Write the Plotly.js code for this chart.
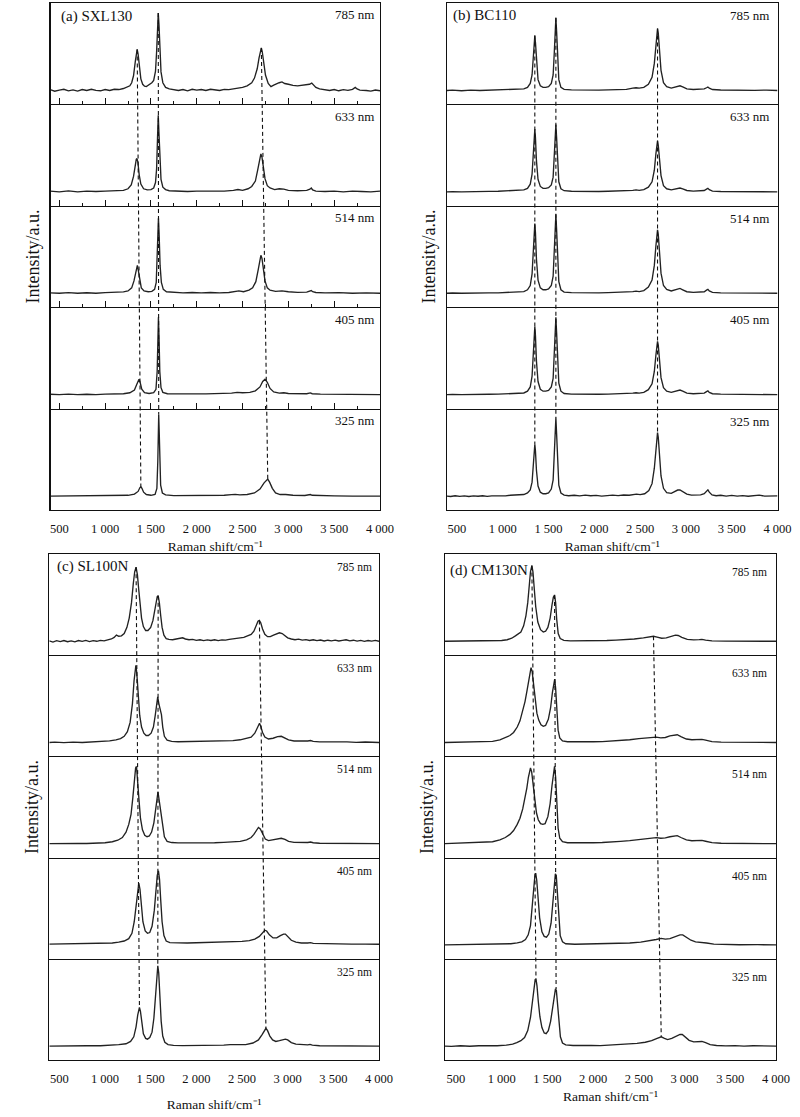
<!DOCTYPE html>
<html><head><meta charset="utf-8">
<script src="https://cdn.plot.ly/plotly-3.0.1.min.js"></script>
<style>html,body{margin:0;padding:0;background:#fff;} #chart{width:800px;height:1117px;}</style>
</head><body><div id="chart"></div>
<script>
// ---------- DATA (Raman shift cm-1, relative intensity) ----------
const lasers = ['785 nm','633 nm','514 nm','405 nm','325 nm'];
const tickVals = [500,1000,1500,2000,2500,3000,3500,4000];
const tickText = ['500','1 000','1 500','2 000','2 500','3 000','3 500','4 000'];
const panelNames = ['(a) SXL130','(b) BC110','(c) SL100N','(d) CM130N'];

// (a) SXL130
const a785 = [[400,0.01],[450,-0.01],[500,0.005],[550,0.015],[600,-0.005],[650,0.008],[700,-0.008],[750,0.012],[800,0.0],[850,0.015],[900,0.002],[950,-0.004],[1000,0.012],[1050,0.0],[1100,0.016],[1150,0.012],[1200,0.025],[1240,0.04],[1270,0.06],[1290,0.1],[1310,0.19],[1330,0.38],[1340,0.49],[1350,0.53],[1360,0.47],[1375,0.3],[1390,0.15],[1410,0.08],[1430,0.055],[1450,0.05],[1480,0.07],[1510,0.1],[1530,0.13],[1550,0.25],[1562,0.5],[1572,0.85],[1580,1.0],[1588,0.85],[1598,0.5],[1610,0.24],[1630,0.1],[1660,0.04],[1700,0.02],[1750,0.01],[1800,0.0],[1850,0.012],[1900,-0.005],[1950,0.015],[2000,0.005],[2050,0.012],[2100,0.0],[2150,0.016],[2200,0.008],[2250,0.0],[2300,0.014],[2350,0.01],[2400,0.02],[2450,0.03],[2500,0.04],[2550,0.06],[2600,0.1],[2630,0.16],[2660,0.28],[2680,0.42],[2695,0.52],[2705,0.55],[2715,0.5],[2730,0.36],[2750,0.2],[2780,0.09],[2810,0.05],[2840,0.07],[2870,0.09],[2900,0.1],[2930,0.11],[2960,0.09],[3000,0.08],[3050,0.065],[3100,0.06],[3150,0.065],[3200,0.07],[3230,0.08],[3255,0.095],[3275,0.07],[3300,0.04],[3340,0.02],[3400,0.01],[3450,0.0],[3500,0.012],[3550,-0.004],[3600,0.01],[3650,0.002],[3700,0.015],[3730,0.04],[3750,0.02],[3780,0.005],[3850,0.0],[3900,-0.008],[3950,0.006],[4000,-0.004]];
const a633 = [[400,0.01],[500,0.0],[600,0.012],[700,0.0],[800,0.01],[900,0.005],[1000,0.01],[1100,0.015],[1200,0.02],[1250,0.04],[1285,0.09],[1310,0.2],[1330,0.36],[1340,0.42],[1348,0.43],[1358,0.38],[1372,0.22],[1390,0.1],[1420,0.04],[1460,0.025],[1500,0.03],[1530,0.05],[1550,0.12],[1562,0.3],[1572,0.7],[1580,0.99],[1588,0.75],[1598,0.38],[1610,0.16],[1630,0.06],[1660,0.03],[1700,0.015],[1800,0.01],[1900,0.005],[2000,0.01],[2100,0.01],[2200,0.005],[2300,0.01],[2400,0.02],[2450,0.03],[2500,0.02],[2560,0.04],[2600,0.07],[2640,0.14],[2665,0.28],[2685,0.43],[2700,0.49],[2712,0.45],[2725,0.33],[2745,0.17],[2770,0.08],[2800,0.05],[2850,0.03],[2900,0.04],[2950,0.035],[3000,0.02],[3100,0.015],[3200,0.02],[3235,0.035],[3250,0.05],[3265,0.025],[3300,0.01],[3400,0.005],[3500,0.01],[3600,0.0],[3700,0.01],[3800,0.005],[3900,0.0],[4000,0.01]];
const a514 = [[400,0.005],[500,0.0],[600,0.008],[700,0.0],[800,0.006],[900,0.0],[1000,0.008],[1100,0.01],[1200,0.018],[1250,0.03],[1290,0.07],[1315,0.16],[1335,0.3],[1345,0.35],[1352,0.36],[1362,0.3],[1378,0.16],[1395,0.07],[1425,0.03],[1470,0.02],[1510,0.025],[1540,0.05],[1558,0.14],[1568,0.4],[1576,0.8],[1582,0.97],[1590,0.75],[1600,0.36],[1614,0.14],[1635,0.05],[1670,0.02],[1750,0.01],[1850,0.005],[1950,0.01],[2050,0.005],[2150,0.01],[2250,0.005],[2350,0.01],[2420,0.02],[2460,0.03],[2510,0.02],[2570,0.04],[2610,0.07],[2645,0.15],[2670,0.3],[2688,0.44],[2700,0.49],[2712,0.45],[2726,0.32],[2745,0.16],[2770,0.07],[2800,0.04],[2860,0.025],[2930,0.03],[3000,0.02],[3100,0.012],[3200,0.015],[3235,0.025],[3250,0.035],[3265,0.02],[3300,0.01],[3400,0.005],[3550,0.008],[3700,0.0],[3850,0.005],[4000,0.0]];
const a405 = [[400,0.005],[500,0.0],[600,0.006],[700,0.0],[800,0.005],[900,0.0],[1000,0.006],[1100,0.008],[1200,0.012],[1270,0.025],[1320,0.06],[1345,0.13],[1360,0.19],[1370,0.2],[1382,0.16],[1400,0.07],[1430,0.025],[1480,0.015],[1530,0.025],[1555,0.07],[1568,0.3],[1576,0.75],[1582,1.0],[1589,0.72],[1597,0.3],[1610,0.09],[1630,0.03],[1680,0.012],[1800,0.008],[1950,0.01],[2100,0.01],[2250,0.012],[2380,0.02],[2440,0.03],[2500,0.025],[2580,0.03],[2640,0.05],[2690,0.1],[2720,0.17],[2745,0.2],[2770,0.16],[2800,0.08],[2840,0.035],[2900,0.02],[2950,0.025],[3000,0.015],[3100,0.01],[3200,0.012],[3240,0.022],[3260,0.012],[3350,0.006],[3500,0.004],[3700,0.0],[3850,0.004],[4000,0.0]];
const a325 = [[400,0.0],[600,0.002],[800,0.0],[1000,0.003],[1150,0.005],[1250,0.01],[1320,0.025],[1360,0.06],[1380,0.11],[1390,0.12],[1402,0.1],[1420,0.05],[1450,0.02],[1500,0.01],[1545,0.02],[1565,0.1],[1575,0.45],[1580,0.85],[1585,1.05],[1590,0.85],[1596,0.45],[1606,0.14],[1625,0.04],[1660,0.015],[1750,0.005],[1900,0.004],[2100,0.006],[2300,0.01],[2380,0.018],[2420,0.022],[2470,0.015],[2550,0.02],[2630,0.04],[2690,0.09],[2735,0.17],[2760,0.21],[2775,0.22],[2795,0.18],[2825,0.1],[2860,0.04],[2910,0.02],[2970,0.02],[3050,0.01],[3180,0.008],[3240,0.02],[3260,0.01],[3350,0.004],[3500,0.002],[3700,0.0],[4000,0.0]];

// (b) BC110
const b785 = [[390,0.0],[450,0.005],[550,-0.003],[650,0.004],[750,0.0],[850,0.004],[950,0.002],[1050,0.01],[1120,0.015],[1180,0.012],[1230,0.02],[1270,0.04],[1300,0.09],[1320,0.2],[1335,0.45],[1345,0.66],[1350,0.71],[1357,0.62],[1368,0.36],[1385,0.14],[1410,0.06],[1440,0.04],[1470,0.04],[1500,0.05],[1530,0.09],[1550,0.2],[1563,0.5],[1572,0.8],[1580,0.94],[1588,0.76],[1597,0.42],[1612,0.14],[1635,0.04],[1670,0.015],[1750,0.008],[1850,0.005],[1950,0.006],[2050,0.004],[2150,0.008],[2250,0.01],[2350,0.015],[2420,0.03],[2455,0.035],[2490,0.03],[2540,0.04],[2590,0.08],[2630,0.17],[2655,0.35],[2672,0.6],[2683,0.76],[2690,0.8],[2698,0.74],[2710,0.52],[2728,0.26],[2755,0.1],[2790,0.05],[2840,0.03],[2880,0.04],[2910,0.055],[2935,0.06],[2965,0.045],[3010,0.02],[3080,0.012],[3150,0.012],[3200,0.02],[3225,0.035],[3240,0.045],[3255,0.03],[3290,0.012],[3380,0.006],[3500,0.003],[3620,0.006],[3750,0.002],[3880,0.005],[4000,0.0]];
const b633 = [[390,0.0],[450,0.004],[550,0.0],[650,0.005],[750,0.002],[850,0.006],[950,0.008],[1050,0.015],[1120,0.022],[1180,0.02],[1230,0.025],[1270,0.045],[1300,0.1],[1320,0.23],[1335,0.52],[1345,0.76],[1350,0.81],[1357,0.7],[1368,0.4],[1385,0.16],[1410,0.07],[1440,0.045],[1470,0.045],[1500,0.055],[1530,0.09],[1550,0.19],[1563,0.47],[1572,0.74],[1580,0.87],[1588,0.7],[1597,0.39],[1612,0.13],[1635,0.04],[1670,0.015],[1750,0.008],[1850,0.005],[1950,0.006],[2050,0.005],[2150,0.008],[2250,0.01],[2350,0.012],[2420,0.02],[2455,0.025],[2490,0.02],[2540,0.03],[2590,0.06],[2630,0.13],[2655,0.28],[2672,0.49],[2683,0.62],[2690,0.66],[2698,0.6],[2710,0.43],[2728,0.21],[2755,0.08],[2790,0.04],[2840,0.025],[2880,0.035],[2910,0.048],[2935,0.05],[2965,0.038],[3010,0.018],[3080,0.01],[3150,0.01],[3200,0.018],[3225,0.035],[3240,0.045],[3255,0.028],[3290,0.01],[3380,0.005],[3500,0.003],[3620,0.005],[3750,0.002],[3880,0.004],[4000,0.0]];
const b514 = [[390,0.0],[450,0.004],[550,0.0],[650,0.004],[750,0.002],[850,0.005],[950,0.006],[1050,0.012],[1120,0.018],[1180,0.016],[1230,0.022],[1270,0.045],[1300,0.1],[1320,0.25],[1335,0.57],[1345,0.84],[1350,0.9],[1357,0.78],[1368,0.44],[1385,0.17],[1410,0.07],[1440,0.045],[1470,0.045],[1500,0.055],[1530,0.1],[1550,0.22],[1563,0.55],[1572,0.87],[1580,1.02],[1588,0.82],[1597,0.46],[1612,0.15],[1635,0.045],[1670,0.015],[1750,0.008],[1850,0.005],[1950,0.006],[2050,0.005],[2150,0.008],[2250,0.01],[2350,0.014],[2420,0.022],[2455,0.028],[2490,0.022],[2540,0.035],[2590,0.08],[2630,0.17],[2655,0.36],[2672,0.61],[2683,0.78],[2690,0.82],[2698,0.76],[2710,0.53],[2728,0.26],[2755,0.1],[2790,0.05],[2840,0.03],[2880,0.045],[2910,0.058],[2935,0.062],[2965,0.045],[3010,0.02],[3080,0.012],[3150,0.012],[3200,0.02],[3225,0.04],[3240,0.05],[3255,0.03],[3290,0.012],[3380,0.006],[3500,0.004],[3620,0.006],[3750,0.002],[3880,0.004],[4000,0.0]];
const b405 = [[390,0.0],[450,0.004],[550,0.0],[650,0.004],[750,0.002],[850,0.005],[950,0.006],[1050,0.012],[1120,0.018],[1180,0.016],[1230,0.022],[1270,0.045],[1300,0.1],[1320,0.24],[1335,0.55],[1345,0.82],[1350,0.88],[1357,0.76],[1368,0.43],[1385,0.17],[1410,0.07],[1440,0.045],[1470,0.045],[1500,0.055],[1530,0.1],[1550,0.21],[1563,0.54],[1572,0.85],[1580,1.0],[1588,0.8],[1597,0.45],[1612,0.15],[1635,0.045],[1670,0.015],[1750,0.008],[1850,0.005],[1950,0.006],[2050,0.005],[2150,0.008],[2250,0.01],[2350,0.014],[2420,0.02],[2455,0.025],[2490,0.02],[2540,0.03],[2590,0.065],[2630,0.14],[2655,0.3],[2672,0.51],[2683,0.65],[2690,0.69],[2698,0.64],[2710,0.45],[2728,0.22],[2755,0.09],[2790,0.045],[2840,0.03],[2880,0.045],[2910,0.058],[2935,0.06],[2965,0.045],[3010,0.02],[3080,0.012],[3150,0.012],[3200,0.02],[3225,0.04],[3240,0.05],[3255,0.03],[3290,0.012],[3380,0.006],[3500,0.004],[3620,0.006],[3750,0.002],[3880,0.004],[4000,0.0]];
const b325 = [[390,0.0],[430,-0.006],[480,0.004],[530,-0.004],[580,0.003],[630,-0.005],[680,0.002],[730,-0.002],[780,0.004],[830,-0.003],[880,0.003],[930,0.0],[980,0.006],[1030,0.002],[1080,0.01],[1130,0.015],[1180,0.012],[1230,0.02],[1270,0.04],[1300,0.08],[1320,0.18],[1335,0.42],[1345,0.62],[1350,0.67],[1357,0.58],[1368,0.33],[1385,0.13],[1410,0.05],[1440,0.03],[1470,0.03],[1500,0.04],[1530,0.09],[1550,0.21],[1563,0.54],[1572,0.86],[1580,1.01],[1588,0.8],[1597,0.45],[1612,0.14],[1635,0.04],[1670,0.012],[1720,0.004],[1780,0.01],[1840,0.002],[1900,0.012],[1960,0.004],[2020,0.008],[2080,0.0],[2140,0.006],[2200,0.012],[2260,0.006],[2320,0.014],[2380,0.01],[2430,0.02],[2460,0.025],[2500,0.018],[2550,0.03],[2595,0.07],[2630,0.16],[2655,0.36],[2672,0.61],[2683,0.78],[2690,0.82],[2698,0.76],[2710,0.53],[2728,0.26],[2755,0.1],[2790,0.045],[2840,0.035],[2880,0.06],[2910,0.078],[2935,0.08],[2965,0.06],[3010,0.025],[3060,0.012],[3110,0.018],[3160,0.015],[3200,0.03],[3225,0.065],[3240,0.08],[3255,0.05],[3285,0.015],[3330,0.004],[3380,0.01],[3440,0.0],[3500,0.008],[3560,0.0],[3620,0.006],[3680,-0.002],[3740,0.004],[3800,0.012],[3860,0.0],[3920,0.004],[3960,-0.002],[4000,0.002]];

// (c) SL100N
const c785 = [[390,0.005],[430,-0.01],[470,0.008],[510,-0.004],[550,0.01],[590,-0.006],[630,0.006],[670,-0.008],[710,0.01],[750,0.0],[790,0.012],[830,-0.004],[870,0.008],[910,0.0],[950,0.012],[990,0.005],[1030,0.018],[1070,0.03],[1100,0.05],[1125,0.08],[1150,0.065],[1180,0.07],[1210,0.1],[1240,0.18],[1265,0.3],[1290,0.5],[1310,0.75],[1325,0.9],[1340,0.96],[1355,0.86],[1370,0.66],[1385,0.46],[1400,0.3],[1420,0.19],[1445,0.14],[1470,0.14],[1500,0.18],[1525,0.27],[1545,0.4],[1560,0.52],[1572,0.58],[1582,0.59],[1595,0.5],[1610,0.33],[1625,0.18],[1645,0.08],[1670,0.035],[1700,0.025],[1740,0.02],[1780,0.03],[1820,0.04],[1850,0.045],[1880,0.03],[1920,0.02],[1960,0.025],[2000,0.012],[2040,0.02],[2080,0.008],[2120,0.018],[2160,0.01],[2200,0.02],[2240,0.008],[2280,0.018],[2320,0.015],[2360,0.025],[2400,0.03],[2440,0.04],[2480,0.045],[2520,0.05],[2560,0.07],[2600,0.09],[2630,0.13],[2655,0.2],[2675,0.26],[2690,0.27],[2705,0.24],[2725,0.16],[2750,0.09],[2780,0.06],[2810,0.06],[2845,0.08],[2880,0.1],[2910,0.11],[2940,0.1],[2970,0.07],[3000,0.045],[3040,0.03],[3080,0.02],[3120,0.028],[3160,0.015],[3200,0.022],[3240,0.01],[3280,0.02],[3320,0.008],[3360,0.016],[3400,0.004],[3440,0.014],[3480,0.006],[3520,0.015],[3560,0.004],[3600,0.012],[3640,0.02],[3680,0.006],[3720,0.014],[3760,0.002],[3800,0.012],[3840,0.0],[3880,0.01],[3920,0.002],[3960,0.012],[4000,0.0]];
const c633 = [[390,0.0],[450,0.004],[550,-0.002],[650,0.005],[750,0.0],[850,0.006],[950,0.01],[1050,0.02],[1120,0.035],[1170,0.05],[1210,0.08],[1245,0.14],[1275,0.26],[1300,0.5],[1318,0.8],[1330,0.96],[1338,1.0],[1348,0.9],[1362,0.62],[1380,0.35],[1400,0.2],[1425,0.12],[1450,0.09],[1475,0.09],[1505,0.12],[1530,0.2],[1550,0.35],[1565,0.52],[1577,0.59],[1590,0.5],[1605,0.42],[1618,0.36],[1632,0.2],[1650,0.08],[1680,0.03],[1730,0.015],[1800,0.01],[1900,0.012],[2000,0.008],[2100,0.012],[2200,0.015],[2300,0.02],[2400,0.025],[2480,0.035],[2550,0.05],[2600,0.07],[2640,0.12],[2665,0.19],[2682,0.24],[2692,0.25],[2705,0.21],[2725,0.13],[2750,0.07],[2790,0.045],[2840,0.055],[2890,0.075],[2930,0.08],[2970,0.06],[3010,0.035],[3070,0.02],[3150,0.015],[3220,0.02],[3250,0.025],[3280,0.015],[3350,0.008],[3450,0.01],[3550,0.004],[3650,0.008],[3750,0.002],[3850,0.006],[4000,0.0]];
const c514 = [[390,0.0],[500,0.004],[600,0.0],[700,0.005],[800,0.002],[900,0.006],[1000,0.012],[1080,0.025],[1140,0.045],[1190,0.08],[1230,0.15],[1260,0.25],[1285,0.38],[1305,0.6],[1322,0.85],[1335,0.98],[1345,1.0],[1355,0.88],[1370,0.6],[1388,0.33],[1410,0.18],[1435,0.11],[1460,0.09],[1485,0.1],[1510,0.15],[1535,0.27],[1555,0.46],[1570,0.63],[1580,0.67],[1592,0.57],[1605,0.45],[1618,0.38],[1632,0.22],[1650,0.09],[1680,0.03],[1730,0.015],[1800,0.01],[1900,0.01],[2000,0.008],[2100,0.012],[2200,0.012],[2300,0.018],[2400,0.025],[2480,0.03],[2550,0.05],[2600,0.08],[2630,0.12],[2660,0.18],[2680,0.21],[2700,0.19],[2725,0.12],[2755,0.06],[2790,0.04],[2840,0.05],[2890,0.065],[2930,0.07],[2970,0.055],[3010,0.03],[3070,0.018],[3150,0.012],[3220,0.016],[3250,0.022],[3280,0.012],[3350,0.006],[3500,0.006],[3650,0.003],[3800,0.005],[4000,0.0]];
const c405 = [[390,0.01],[500,0.012],[600,0.01],[700,0.014],[800,0.012],[900,0.016],[1000,0.02],[1080,0.025],[1150,0.035],[1210,0.05],[1260,0.08],[1295,0.15],[1320,0.3],[1340,0.53],[1355,0.72],[1370,0.8],[1383,0.72],[1398,0.5],[1415,0.3],[1440,0.18],[1465,0.15],[1490,0.16],[1515,0.24],[1540,0.45],[1558,0.72],[1572,0.9],[1585,0.96],[1597,0.85],[1610,0.58],[1625,0.3],[1645,0.12],[1670,0.05],[1710,0.03],[1800,0.025],[1900,0.025],[2000,0.028],[2100,0.03],[2200,0.032],[2300,0.035],[2400,0.04],[2500,0.045],[2580,0.055],[2640,0.075],[2690,0.11],[2725,0.16],[2750,0.19],[2770,0.18],[2800,0.13],[2840,0.09],[2880,0.09],[2920,0.12],[2955,0.14],[2975,0.14],[3000,0.11],[3040,0.06],[3090,0.035],[3150,0.025],[3220,0.025],[3250,0.03],[3280,0.02],[3400,0.015],[3550,0.012],[3700,0.01],[3850,0.01],[4000,0.008]];
const c325 = [[390,0.0],[500,0.003],[650,0.0],[800,0.004],[950,0.005],[1050,0.01],[1150,0.018],[1230,0.03],[1280,0.06],[1315,0.12],[1340,0.25],[1358,0.4],[1370,0.48],[1377,0.5],[1388,0.45],[1402,0.3],[1420,0.16],[1445,0.1],[1465,0.09],[1490,0.11],[1515,0.18],[1535,0.36],[1550,0.62],[1562,0.88],[1572,1.02],[1578,1.04],[1588,0.95],[1600,0.65],[1615,0.32],[1632,0.13],[1655,0.05],[1690,0.02],[1750,0.01],[1850,0.006],[2000,0.006],[2150,0.008],[2300,0.012],[2370,0.018],[2410,0.02],[2460,0.015],[2540,0.02],[2620,0.04],[2680,0.08],[2720,0.15],[2745,0.21],[2762,0.23],[2780,0.2],[2805,0.13],[2835,0.08],[2870,0.06],[2910,0.07],[2950,0.085],[2975,0.09],[3000,0.08],[3040,0.045],[3090,0.025],[3160,0.015],[3220,0.015],[3245,0.022],[3270,0.012],[3350,0.005],[3500,0.004],[3700,0.0],[3850,0.003],[4000,0.0]];

// (d) CM130N
const d785 = [[380,0.0],[500,0.002],[600,0.0],[700,0.003],[800,0.002],[900,0.005],[1000,0.01],[1060,0.02],[1110,0.04],[1150,0.07],[1180,0.09],[1210,0.12],[1240,0.2],[1265,0.33],[1285,0.5],[1300,0.7],[1315,0.9],[1330,0.98],[1342,0.9],[1355,0.7],[1372,0.45],[1395,0.25],[1425,0.15],[1455,0.12],[1480,0.13],[1505,0.18],[1530,0.3],[1550,0.47],[1565,0.57],[1578,0.6],[1590,0.5],[1602,0.28],[1618,0.1],[1640,0.035],[1680,0.012],[1750,0.005],[1850,0.004],[1950,0.005],[2050,0.006],[2150,0.01],[2250,0.015],[2350,0.02],[2450,0.03],[2550,0.045],[2620,0.058],[2660,0.065],[2700,0.055],[2750,0.04],[2800,0.045],[2850,0.065],[2900,0.08],[2930,0.075],[2970,0.05],[3030,0.025],[3100,0.018],[3160,0.022],[3190,0.025],[3230,0.015],[3300,0.006],[3450,0.003],[3600,0.0],[3800,0.002],[4000,0.0]];
const d633 = [[380,0.0],[500,0.003],[600,0.002],[700,0.005],[800,0.008],[900,0.015],[980,0.035],[1040,0.06],[1090,0.09],[1130,0.13],[1170,0.2],[1200,0.28],[1230,0.4],[1255,0.53],[1275,0.66],[1295,0.82],[1310,0.93],[1321,0.97],[1333,0.92],[1348,0.76],[1365,0.55],[1385,0.38],[1405,0.29],[1430,0.23],[1455,0.21],[1480,0.22],[1510,0.3],[1535,0.45],[1555,0.65],[1570,0.78],[1580,0.82],[1590,0.7],[1602,0.42],[1617,0.16],[1635,0.06],[1665,0.02],[1720,0.01],[1800,0.008],[1900,0.008],[2000,0.01],[2100,0.012],[2200,0.018],[2300,0.025],[2400,0.035],[2500,0.05],[2580,0.062],[2640,0.07],[2690,0.07],[2740,0.06],[2790,0.065],[2840,0.085],[2890,0.1],[2920,0.1],[2960,0.075],[3020,0.045],[3080,0.035],[3140,0.035],[3190,0.04],[3230,0.03],[3300,0.012],[3400,0.005],[3550,0.003],[3700,0.0],[3850,0.002],[4000,0.0]];
const d514 = [[380,0.0],[500,0.005],[600,0.005],[700,0.01],[800,0.015],[900,0.025],[980,0.05],[1040,0.08],[1090,0.12],[1130,0.17],[1170,0.25],[1200,0.33],[1230,0.45],[1255,0.58],[1275,0.72],[1292,0.86],[1305,0.95],[1315,0.98],[1328,0.93],[1343,0.77],[1360,0.56],[1380,0.4],[1400,0.31],[1425,0.26],[1450,0.25],[1475,0.26],[1505,0.35],[1530,0.52],[1550,0.75],[1566,0.93],[1578,1.0],[1590,0.86],[1602,0.52],[1617,0.2],[1635,0.07],[1665,0.025],[1720,0.012],[1800,0.01],[1900,0.01],[2000,0.012],[2100,0.015],[2200,0.02],[2300,0.03],[2400,0.04],[2500,0.055],[2580,0.068],[2640,0.075],[2690,0.078],[2740,0.07],[2790,0.075],[2840,0.09],[2890,0.105],[2920,0.105],[2960,0.08],[3020,0.05],[3080,0.038],[3140,0.038],[3190,0.042],[3230,0.032],[3300,0.014],[3400,0.006],[3550,0.004],[3700,0.0],[3850,0.003],[4000,0.0]];
const d405 = [[380,0.0],[500,0.003],[600,0.0],[700,0.004],[800,0.002],[900,0.005],[1000,0.008],[1100,0.015],[1170,0.025],[1220,0.04],[1260,0.07],[1290,0.13],[1315,0.25],[1335,0.47],[1350,0.72],[1362,0.88],[1372,0.93],[1383,0.84],[1397,0.6],[1415,0.35],[1440,0.17],[1465,0.11],[1490,0.1],[1515,0.14],[1540,0.28],[1560,0.55],[1575,0.8],[1587,0.92],[1597,0.9],[1608,0.68],[1622,0.35],[1640,0.12],[1665,0.04],[1700,0.015],[1800,0.008],[1950,0.01],[2100,0.012],[2250,0.018],[2400,0.025],[2520,0.035],[2620,0.05],[2690,0.07],[2745,0.085],[2790,0.075],[2840,0.08],[2900,0.11],[2950,0.13],[2980,0.13],[3020,0.1],[3070,0.06],[3120,0.04],[3170,0.035],[3200,0.035],[3240,0.025],[3320,0.01],[3450,0.005],[3600,0.002],[3800,0.003],[4000,0.0]];
const d325 = [[380,0.0],[450,-0.004],[550,0.004],[650,-0.002],[750,0.004],[850,0.0],[950,0.005],[1050,0.012],[1120,0.025],[1165,0.045],[1210,0.07],[1250,0.11],[1285,0.2],[1315,0.37],[1338,0.6],[1355,0.8],[1366,0.86],[1375,0.87],[1386,0.78],[1400,0.58],[1418,0.38],[1440,0.24],[1465,0.17],[1486,0.16],[1510,0.2],[1535,0.32],[1557,0.5],[1575,0.66],[1588,0.74],[1598,0.72],[1610,0.55],[1625,0.3],[1642,0.12],[1665,0.04],[1700,0.015],[1780,0.008],[1880,0.004],[1980,0.008],[2080,0.006],[2180,0.012],[2280,0.015],[2380,0.022],[2480,0.035],[2570,0.05],[2640,0.07],[2700,0.1],[2745,0.12],[2780,0.1],[2815,0.085],[2860,0.1],[2910,0.13],[2950,0.15],[2975,0.15],[3005,0.12],[3050,0.075],[3100,0.055],[3150,0.055],[3190,0.06],[3230,0.045],[3280,0.02],[3350,0.008],[3450,0.002],[3550,0.006],[3650,0.0],[3750,0.004],[3850,0.0],[3950,0.004],[4000,0.0]];

// dashed guide lines: [785 nm apex [shift, intensity], 325 nm apex [shift, intensity]]
const aDashD = [[1350,0.53],[1390,0.12]], aDashG = [[1580,1.0],[1585,1.05]], aDash2D = [[2705,0.55],[2775,0.22]];
const bDashD = [[1350,0.71],[1350,0.67]], bDashG = [[1580,0.94],[1580,1.01]], bDash2D = [[2690,0.8],[2690,0.82]];
const cDashD = [[1340,0.96],[1377,0.5]], cDashG = [[1582,0.59],[1578,1.04]], cDash2D = [[2690,0.27],[2762,0.23]];
const dDashD = [[1330,0.98],[1375,0.87]], dDashG = [[1578,0.6],[1595,0.74]], dDash2D = [[2660,0.065],[2745,0.12]];

// ---------- LAYOUT ----------
const W = 800, H = 1117;
const FONT = 'Liberation Serif, "Times New Roman", serif';
const INK = '#111';
const YMIN = -0.18, YMAX = 1.13;

const panels = [
  {spectra:[a785,a633,a514,a405,a325], dashes:[aDashD,aDashG,aDash2D], xr:[404,4000], box:[50.5,380,3,510], inner:true,
   nameXY:[59.3,16], nmRight:376, nmDy:12, nmSize:13, nameSize:15, xts:6},
  {spectra:[b785,b633,b514,b405,b325], dashes:[bDashD,bDashG,bDash2D], xr:[391,4000], box:[447,777.5,3,510], inner:false,
   nameXY:[450.7,15.3], nmRight:771, nmDy:12.5, nmSize:13, nameSize:15, xts:6},
  {spectra:[c785,c633,c514,c405,c325], dashes:[cDashD,cDashG,cDash2D], xr:[390,4000], box:[49.3,379,554,1060], inner:false,
   nameXY:[55,566.7], nmRight:374, nmDy:13, nmSize:11.5, nameSize:15, xts:14},
  {spectra:[d785,d633,d514,d405,d325], dashes:[dDashD,dDashG,dDash2D], xr:[380,4000], box:[445,776,554,1060], inner:false,
   nameXY:[448.3,570.3], nmRight:769, nmDy:18, nmSize:11.5, nameSize:15, xts:6}
];

const traces = [];
const layout = {width:W, height:H, margin:{l:0,r:0,t:0,b:0}, paper_bgcolor:'#fff', plot_bgcolor:'rgba(0,0,0,0)',
  showlegend:false, font:{family:FONT, color:INK}, annotations:[]};
const ax = n => (n===1 ? '' : String(n));

panels.forEach((P, p) => {
  const [l, r, t, b] = P.box;
  const h = (b - t) / 5;
  const xd = [l / W, r / W];
  for (let j = 0; j < 5; j++) {
    const n = p * 6 + j + 1;
    const s = P.spectra[j];
    traces.push({type:'scatter', mode:'lines', x:s.map(d => d[0]), y:s.map(d => d[1]),
      xaxis:'x' + ax(n), yaxis:'y' + ax(n), line:{color:'#222', width:1.35}, hoverinfo:'skip'});
    const xa = {domain:xd, range:P.xr, anchor:'y' + ax(n), showline:true, mirror:(j === 0), linecolor:INK, linewidth:1,
      showgrid:false, zeroline:false, fixedrange:true};
    if (j === 4) {
      Object.assign(xa, {tickmode:'array', tickvals:tickVals, ticktext:tickText, ticks:'outside', ticklen:7,
        tickcolor:'rgba(0,0,0,0)', showticklabels:true, tickfont:{family:FONT, size:12.5, color:INK},
        title:{text:'Raman shift/cm\u207B\u00B9', font:{family:FONT, size:13.5, color:INK}, standoff:P.xts}});
    } else if (P.inner) {
      Object.assign(xa, {tickmode:'linear', tick0:500, dtick:500, ticks:'inside', ticklen:6, tickwidth:1, tickcolor:INK,
        showticklabels:false, minor:{tick0:500, dtick:250, ticks:'inside', ticklen:3, tickwidth:1, tickcolor:INK}});
    } else {
      Object.assign(xa, {ticks:'', showticklabels:false});
    }
    layout['xaxis' + ax(n)] = xa;
    layout['yaxis' + ax(n)] = {domain:[1 - (t + (j + 1) * h) / H, 1 - (t + j * h) / H], range:[YMIN, YMAX],
      anchor:'x' + ax(n), showline:true, mirror:true, linecolor:INK, linewidth:1.1, ticks:'', showticklabels:false,
      showgrid:false, zeroline:false, fixedrange:true};
    layout.annotations.push({xref:'paper', yref:'paper', x:P.nmRight / W, y:1 - (t + j * h + P.nmDy) / H,
      xanchor:'right', yanchor:'middle', text:lasers[j], showarrow:false, font:{family:FONT, size:P.nmSize, color:INK}});
  }
  // overlay axis spanning the whole panel for the dashed guides and the y title
  const m = p * 6 + 6;
  layout['xaxis' + ax(m)] = {domain:xd, range:P.xr, anchor:'y' + ax(m), visible:false, fixedrange:true};
  layout['yaxis' + ax(m)] = {domain:[1 - b / H, 1 - t / H], range:[0, 5], anchor:'x' + ax(m), showline:false,
    ticks:'', showticklabels:false, showgrid:false, zeroline:false, fixedrange:true,
    title:{text:'Intensity/a.u.', font:{family:FONT, size:18, color:INK}, standoff:5}};
  P.dashes.forEach(dl => {
    traces.push({type:'scatter', mode:'lines', x:dl.map(q => q[0]),
      y:[4 + (dl[0][1] - YMIN) / (YMAX - YMIN), 0 + (dl[1][1] - YMIN) / (YMAX - YMIN)],
      xaxis:'x' + ax(m), yaxis:'y' + ax(m), line:{color:INK, width:1.1, dash:'4px,3px'}, hoverinfo:'skip'});
  });
  layout.annotations.push({xref:'paper', yref:'paper', x:P.nameXY[0] / W, y:1 - P.nameXY[1] / H,
    xanchor:'left', yanchor:'middle', text:panelNames[p], showarrow:false, font:{family:FONT, size:P.nameSize, color:INK}});
});

Plotly.newPlot('chart', traces, layout, {staticPlot:true, displayModeBar:false});
</script>
</body></html>
